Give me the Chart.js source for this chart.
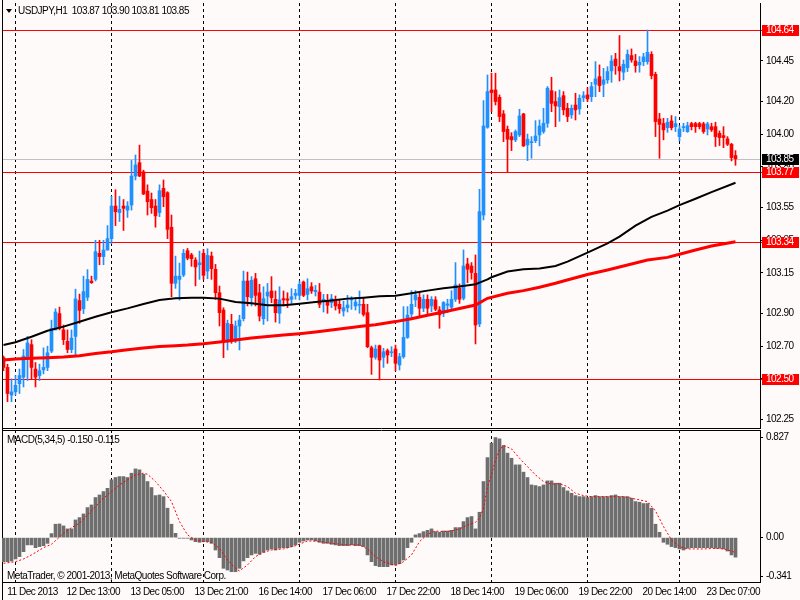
<!DOCTYPE html>
<html><head><meta charset="utf-8">
<script src="https://cdn.jsdelivr.net/npm/chart.js@4.4.0/dist/chart.umd.min.js"></script>
<style>
html,body{margin:0;padding:0;background:#fffafa;}
#wrap{position:relative;width:800px;height:600px;overflow:hidden;background:#fffafa;font-family:'Liberation Sans',Arial,sans-serif;font-size:10px;letter-spacing:-0.5px;color:#000;}
canvas{position:absolute;left:0;top:0;}
.txt{position:absolute;white-space:pre;line-height:12px;}
#tri{position:absolute;left:6px;top:9px;width:0;height:0;border-left:3px solid transparent;border-right:3px solid transparent;border-top:4px solid #000;}
</style></head><body>
<div id="wrap">
<canvas id="c1" width="800" height="600"></canvas>
<canvas id="c2" width="800" height="600"></canvas>
<div id="tri"></div>
<div class="txt" style="left:18px;top:5px">USDJPY,H1  103.87 103.90 103.81 103.85</div>
<div class="txt" style="left:7px;top:434px">MACD(5,34,5) -0.150 -0.115</div>
<div class="txt" style="left:7px;top:570px">MetaTrader, © 2001-2013, MetaQuotes Software Corp.</div>
</div>
<script>
// ---------- data ----------
const opens = [
102.63,102.57,102.40,102.42,102.47,102.51,102.63,102.71,102.56,102.52,
102.555,102.57,102.67,102.80,102.90,102.80,102.73,102.68,102.76,102.98,
102.93,103.00,103.10,103.11,103.27,103.25,103.29,103.36,103.56,103.52,
103.56,103.535,103.566,103.744,103.826,103.77,103.652,103.60,103.56,103.52,
103.668,103.642,103.43,103.086,103.11,103.137,103.286,103.26,103.229,103.20,
103.27,103.161,103.253,103.172,103.028,102.922,102.726,102.834,102.732,102.824,
102.869,103.10,102.998,103.114,103.028,102.869,103.008,103.039,102.988,102.902,
102.992,102.99,102.988,103.012,103.012,103.094,103.018,103.065,103.035,103.032,
102.977,102.977,102.967,102.977,102.957,102.916,102.936,102.984,102.947,102.951,
102.957,102.906,102.691,102.632,102.703,102.632,102.673,102.66,102.683,102.585,
102.636,102.754,102.898,102.984,103.0,102.933,102.988,102.947,102.984,102.923,
102.902,102.951,102.939,102.988,103.055,102.994,103.205,103.192,103.147,102.837,
103.505,104.043,104.272,104.272,104.227,104.125,104.031,103.986,103.966,103.996,
104.125,103.935,103.949,103.961,103.996,104.017,104.068,104.268,104.201,104.17,
104.237,104.16,104.119,104.18,104.156,104.225,104.242,104.231,104.307,104.354,
104.307,104.334,104.389,104.462,104.415,104.381,104.409,104.483,104.45,104.426,
104.446,104.446,104.491,104.368,104.094,104.066,104.041,104.082,104.047,103.986,
104.041,104.017,104.066,104.066,104.066,104.064,104.033,104.047,104.047,104.006,
103.992,103.972,103.939,103.87];
const highs = [
102.64,102.59,102.50,102.52,102.56,102.68,102.76,102.74,102.60,102.59,
102.69,102.70,102.86,102.93,102.94,102.83,102.80,102.80,103.05,103.02,
103.13,103.17,103.13,103.35,103.35,103.35,103.44,103.62,103.66,103.62,
103.60,103.587,103.84,103.873,103.934,103.78,103.69,103.64,103.60,103.69,
103.72,103.648,103.505,103.253,103.21,103.294,103.30,103.27,103.243,103.284,
103.294,103.298,103.278,103.202,103.069,102.936,102.86,102.896,102.855,102.89,
103.161,103.155,103.127,103.147,103.08,103.065,103.085,103.127,103.039,103.065,
103.039,103.028,103.053,103.049,103.10,103.10,103.114,103.09,103.073,103.085,
103.018,103.018,103.018,103.008,102.988,102.977,103.012,103.004,102.998,103.039,
102.998,102.957,102.701,102.707,102.707,102.687,102.683,102.697,102.707,102.656,
102.943,102.943,103.041,103.041,103.029,103.015,103.015,103.004,103.004,102.943,
102.974,102.988,103.041,103.213,103.082,103.291,103.24,103.213,103.26,103.663,
104.207,104.364,104.375,104.375,104.242,104.146,104.051,104.01,104.027,104.154,
104.129,104.002,103.986,104.084,104.088,104.16,104.293,104.35,104.262,104.272,
104.262,104.19,104.18,104.252,104.242,104.262,104.286,104.319,104.446,104.426,
104.405,104.415,104.483,104.497,104.606,104.456,104.518,104.524,104.491,104.477,
104.497,104.64,104.507,104.381,104.129,104.098,104.098,104.115,104.109,104.053,
104.068,104.074,104.074,104.074,104.074,104.074,104.074,104.068,104.074,104.021,
104.047,103.986,103.945,103.90];
const lows = [
102.55,102.36,102.36,102.40,102.41,102.45,102.49,102.50,102.45,102.49,
102.53,102.55,102.66,102.80,102.80,102.71,102.66,102.66,102.64,102.84,
102.90,102.98,103.085,103.10,103.20,103.20,103.29,103.33,103.44,103.465,
103.41,103.49,103.535,103.72,103.74,103.63,103.505,103.515,103.43,103.495,
103.556,103.36,103.004,103.055,102.983,103.127,103.23,103.19,103.07,103.11,
103.11,103.114,103.11,102.987,102.824,102.63,102.677,102.718,102.722,102.677,
102.855,102.947,102.947,102.947,102.855,102.834,102.855,102.967,102.848,102.84,
102.947,102.937,102.963,102.988,102.984,103.004,102.984,103.024,103.008,102.937,
102.91,102.902,102.937,102.922,102.902,102.885,102.91,102.926,102.922,102.902,
102.885,102.691,102.527,102.62,102.493,102.57,102.595,102.636,102.55,102.554,
102.626,102.748,102.871,102.943,102.886,102.912,102.892,102.912,102.918,102.81,
102.882,102.906,102.923,102.974,102.963,102.984,103.09,103.111,102.714,102.82,
103.475,104.037,104.139,104.18,104.078,103.955,103.767,103.90,103.955,103.986,
103.925,103.839,103.853,103.949,103.929,104.006,104.043,104.139,104.047,104.08,
104.119,104.078,104.098,104.088,104.123,104.201,104.201,104.201,104.231,104.262,
104.231,104.313,104.319,104.368,104.327,104.334,104.385,104.442,104.381,104.381,
104.421,104.43,104.34,103.986,103.853,103.966,104.012,104.027,104.017,103.959,
104.017,104.012,104.027,104.012,104.033,104.006,103.996,104.017,103.925,103.931,
103.918,103.931,103.837,103.81];
const closes = [
102.57,102.41,102.42,102.46,102.52,102.64,102.72,102.57,102.51,102.55,
102.57,102.66,102.81,102.91,102.81,102.74,102.68,102.75,102.99,102.92,
103.035,103.11,103.09,103.28,103.25,103.29,103.36,103.56,103.525,103.54,
103.546,103.56,103.744,103.812,103.744,103.634,103.587,103.55,103.50,103.654,
103.617,103.417,103.086,103.13,103.13,103.27,103.24,103.237,103.186,103.212,
103.135,103.257,103.176,103.028,102.906,102.726,102.84,102.738,102.824,102.861,
103.10,103.004,103.104,103.012,102.885,102.992,103.032,102.998,102.906,102.984,
102.984,102.982,103.004,103.024,103.079,103.012,103.053,103.039,103.043,102.957,
102.988,102.951,102.992,102.947,102.93,102.936,102.953,102.992,102.971,102.957,
102.895,102.697,102.632,102.683,102.615,102.666,102.646,102.666,102.595,102.636,
102.754,102.891,102.957,103.015,102.933,102.988,102.933,102.988,102.927,102.892,
102.968,102.959,102.988,103.076,102.988,103.192,103.172,103.152,102.83,103.526,
104.051,104.262,104.256,104.201,104.109,104.017,103.97,103.966,104.017,104.113,
103.929,103.97,103.955,103.99,104.051,104.068,104.283,104.19,104.174,104.225,
104.15,104.109,104.16,104.15,104.221,104.237,104.217,104.293,104.34,104.299,
104.334,104.385,104.45,104.421,104.389,104.43,104.491,104.456,104.421,104.442,
104.475,104.503,104.36,104.078,104.061,104.027,104.074,104.041,104.066,104.033,
104.047,104.053,104.047,104.047,104.047,104.017,104.064,104.027,103.986,103.98,
103.98,103.939,103.857,103.85];

// moving averages (bar index, price)
const blackMaIdx = [0,3,7,11,15,19,23,27,31,35,39,43,47,50,54,58,62,66,70,74,78,82,86,90,94,98,102,106,110,114,118,119,121,122,126,130,134,138,141,146,151,154,158,162,166,169,173,177,183];
const blackMaVal = [102.707,102.724,102.758,102.795,102.82,102.85,102.881,102.908,102.932,102.959,102.983,102.994,102.998,102.998,102.992,102.971,102.963,102.951,102.951,102.961,102.971,102.981,102.992,102.998,103.006,103.01,103.025,103.041,103.055,103.066,103.08,103.09,103.11,103.123,103.158,103.172,103.177,103.192,103.219,103.274,103.331,103.372,103.44,103.494,103.532,103.566,103.605,103.645,103.703];
const redMaIdx = [0,3,7,11,15,19,23,27,31,35,39,43,46,50,54,58,62,66,70,74,78,82,86,90,93,98,102,106,110,114,118,121,126,130,134,138,140,146,151,156,161,166,169,173,177,183];
const redMaVal = [102.615,102.622,102.626,102.63,102.634,102.642,102.656,102.666,102.679,102.689,102.699,102.703,102.707,102.715,102.726,102.738,102.75,102.76,102.769,102.777,102.787,102.799,102.812,102.824,102.832,102.851,102.869,102.89,102.91,102.931,102.953,102.994,103.025,103.041,103.062,103.086,103.1,103.14,103.168,103.198,103.229,103.245,103.264,103.29,103.315,103.341];

// MACD(5,34,5)
const macdHist = [
-0.185,-0.185,-0.18,-0.164,-0.146,-0.108,-0.056,-0.056,-0.077,-0.069,
-0.062,-0.044,0.031,0.103,0.105,0.09,0.067,0.067,0.136,0.154,
0.182,0.231,0.251,0.308,0.328,0.354,0.379,0.444,0.462,0.469,
0.469,0.462,0.495,0.528,0.521,0.487,0.431,0.385,0.323,0.328,
0.315,0.226,0.103,0.033,-0.005,-0.005,-0.005,-0.018,-0.031,-0.036,
-0.031,-0.031,-0.044,-0.095,-0.154,-0.236,-0.249,-0.262,-0.262,-0.236,
-0.179,-0.154,-0.133,-0.121,-0.128,-0.113,-0.095,-0.087,-0.095,-0.082,
-0.077,-0.077,-0.069,-0.056,-0.036,-0.026,-0.018,-0.018,-0.026,-0.036,
-0.044,-0.044,-0.051,-0.056,-0.062,-0.062,-0.062,-0.056,-0.062,-0.062,
-0.069,-0.133,-0.185,-0.215,-0.223,-0.223,-0.223,-0.21,-0.21,-0.2,
-0.172,-0.077,-0.036,0.021,0.031,0.046,0.056,0.067,0.046,0.041,
0.051,0.051,0.056,0.077,0.077,0.123,0.154,0.162,0.067,0.195,
0.431,0.615,0.726,0.769,0.759,0.708,0.649,0.61,0.559,0.559,
0.503,0.462,0.405,0.40,0.392,0.405,0.436,0.436,0.418,0.418,
0.385,0.359,0.341,0.323,0.315,0.315,0.308,0.315,0.323,0.315,
0.315,0.315,0.323,0.328,0.315,0.315,0.315,0.303,0.277,0.272,
0.262,0.262,0.226,0.103,0.041,-0.036,-0.051,-0.069,-0.077,-0.087,
-0.095,-0.082,-0.077,-0.077,-0.077,-0.077,-0.077,-0.077,-0.082,-0.082,
-0.087,-0.103,-0.133,-0.15];
const signalIdx = [0,3,5,7,10,12,15,17,19,21,23,25,27,29,31,33,35,36,38,40,42,44,46,48,50,52,54,56,58,59,61,63,65,67,70,73,76,78,82,86,89,91,93,95,98,100,102,104,106,108,110,112,114,116,118,119,120,121,122,123,124,125,127,129,131,133,135,137,139,141,143,145,147,151,155,159,161,163,165,167,169,171,175,178,180,182,183];
const signalVal = [-0.197,-0.185,-0.164,-0.133,-0.077,-0.051,0.033,0.077,0.110,0.174,0.238,0.303,0.354,0.405,0.444,0.482,0.495,0.487,0.431,0.359,0.277,0.123,0.021,-0.018,-0.031,-0.036,-0.082,-0.172,-0.236,-0.256,-0.21,-0.146,-0.113,-0.095,-0.087,-0.062,-0.026,-0.026,-0.044,-0.056,-0.056,-0.087,-0.146,-0.185,-0.215,-0.185,-0.133,-0.031,0.026,0.051,0.046,0.051,0.067,0.097,0.118,0.149,0.226,0.392,0.482,0.597,0.674,0.708,0.682,0.61,0.546,0.482,0.431,0.41,0.415,0.392,0.341,0.323,0.315,0.315,0.315,0.29,0.277,0.205,0.085,-0.018,-0.069,-0.087,-0.087,-0.082,-0.087,-0.103,-0.115];

// axes / labels
const xLabelIdx = [0,16,32,48,64,80,96,112,128,144,160,176];
const xLabels = ['11 Dec 2013','12 Dec 13:00','13 Dec 05:00','13 Dec 21:00','16 Dec 14:00','17 Dec 06:00','17 Dec 22:00','18 Dec 14:00','19 Dec 06:00','19 Dec 22:00','20 Dec 14:00','23 Dec 07:00'];
const dayStartIdx = [3,27,50,74,98,122,146,169];
const priceTicks = [104.45,104.20,104.00,103.80,103.55,103.35,103.15,102.90,102.70,102.50,102.25];
const levelValues = [104.64,103.77,103.34,102.50];
const bidPrice = 103.85;
const macdMax = 0.827, macdMin = -0.341;
const macdTickLabels = ['0.827','0.00','-0.341'];

// ---------- drawing ----------
const FONT = "'Liberation Sans',Arial,sans-serif";
Chart.defaults.font.family = FONT;
Chart.defaults.font.size = 10;
Chart.defaults.color = '#000';

const X_MIN = -0.375, X_MAX = 189.125;
const Y_MAX = 104.64 + 27/163, Y_MIN = Y_MAX - 425/163;
const candleColor = opens.map((o,i)=> closes[i] >= o ? '#1e90ff' : '#ff0000');

function hline(ctx,x1,x2,y){ctx.beginPath();ctx.moveTo(x1,y);ctx.lineTo(x2,y);ctx.stroke();}
function vline(ctx,x,y1,y2){ctx.beginPath();ctx.moveTo(x,y1);ctx.lineTo(x,y2);ctx.stroke();}
const noPad = s => { s.paddingTop = 0; s.paddingBottom = 0; s.paddingLeft = 0; s.paddingRight = 0; };

const tightText = { id:'tightText', beforeDraw(chart){ if ('letterSpacing' in chart.ctx) chart.ctx.letterSpacing = '-0.5px'; } };

const levelsPlugin = {
  id:'levels',
  beforeDatasetsDraw(chart){
    const {ctx, chartArea:a, scales:{y}} = chart;
    ctx.save(); ctx.lineWidth = 1;
    ctx.strokeStyle = '#c0c0c0';
    hline(ctx, a.left, a.right, Math.round(y.getPixelForValue(bidPrice)) + 0.5);
    ctx.strokeStyle = '#ff0000';
    levelValues.forEach(v => hline(ctx, a.left, a.right + 2, Math.round(y.getPixelForValue(v)) + 0.5));
    ctx.restore();
  },
  afterDraw(chart){
    const {ctx, chartArea:a, scales:{y}} = chart;
    ctx.save();
    ctx.font = '10px ' + FONT; ctx.textBaseline = 'middle'; ctx.textAlign = 'left';
    const box = (v, bg) => {
      const py = Math.round(y.getPixelForValue(v));
      ctx.fillStyle = bg; ctx.fillRect(a.right + 2, py - 5, 37, 11);
      ctx.fillStyle = '#fff'; ctx.fillText(v.toFixed(2), a.right + 6, py + 0.5);
    };
    levelValues.forEach(v => box(v, '#ff0000'));
    box(bidPrice, '#000');
    ctx.strokeStyle = '#000'; ctx.lineWidth = 1;
    vline(ctx, a.left + 0.5, 0, 600);
    vline(ctx, a.right + 0.5, a.top, a.bottom + 1);
    hline(ctx, a.left, a.right + 1, a.bottom + 0.5);
    ctx.restore();
  }
};

const frame2 = {
  id:'frame2',
  afterDraw(chart){
    const {ctx, chartArea:a} = chart;
    ctx.save(); ctx.strokeStyle = '#000'; ctx.lineWidth = 1;
    hline(ctx, a.left, a.right + 1, a.top + 0.5);
    vline(ctx, a.right + 0.5, a.top, a.bottom + 1);
    hline(ctx, a.left, a.right + 1, a.bottom + 0.5);
    ctx.restore();
  }
};

new Chart(document.getElementById('c1'), {
  type:'bar',
  data:{datasets:[
    {type:'line', label:'MA black', data: blackMaIdx.map((x,k)=>({x, y:blackMaVal[k]})), borderColor:'#000', borderWidth:2, pointRadius:0, tension:0, order:0},
    {type:'line', label:'MA red', data: redMaIdx.map((x,k)=>({x, y:redMaVal[k]})), borderColor:'#ff0000', borderWidth:3, pointRadius:0, tension:0, order:0},
    {label:'body', data: opens.map((o,i)=>({x:i, y:[o, closes[i]]})), backgroundColor:candleColor, barThickness:3, grouped:false, minBarLength:1, order:1},
    {label:'wick', data: lows.map((l,i)=>({x:i, y:[l, highs[i]]})), backgroundColor:candleColor, barThickness:1, grouped:false, order:2}
  ]},
  options:{
    responsive:false, animation:false, devicePixelRatio:1,
    layout:{padding:{left:2, top:3, right:0, bottom:172}},
    plugins:{legend:{display:false}, tooltip:{enabled:false}},
    scales:{
      x:{type:'linear', min:X_MIN, max:X_MAX, offset:false, position:'bottom',
         afterBuildTicks: s => { s.ticks = dayStartIdx.map(v=>({value:v})); },
         afterFit: s => { s.height = 0; noPad(s); },
         ticks:{display:false},
         grid:{display:true, color:'#000', lineWidth:1, drawTicks:false, offset:false},
         border:{display:false, dash:[3,3]}},
      y:{type:'linear', position:'right', min:Y_MIN, max:Y_MAX,
         afterBuildTicks: s => { s.ticks = priceTicks.map(v=>({value:v})); },
         afterFit: s => { s.width = 40; noPad(s); },
         ticks:{padding:3, autoSkip:false, callback: v => Number(v).toFixed(2)},
         grid:{drawOnChartArea:false, drawTicks:true, tickLength:3, tickColor:'#000'},
         border:{display:false}}
    }
  },
  plugins:[tightText, levelsPlugin]
});

new Chart(document.getElementById('c2'), {
  type:'bar',
  data:{datasets:[
    {type:'line', label:'Signal', xAxisID:'x', data: signalIdx.map((x,k)=>({x, y:signalVal[k]})), borderColor:'#ff0000', borderWidth:1, borderDash:[2,2], pointRadius:0, tension:0, order:0},
    {label:'MACD', xAxisID:'x', data: macdHist.map((v,i)=>({x:i, y:v})), backgroundColor:'#6e6e6e', barThickness:3, grouped:false, order:1}
  ]},
  options:{
    responsive:false, animation:false, devicePixelRatio:1,
    layout:{padding:{left:2, top:430, right:0, bottom:0}},
    plugins:{legend:{display:false}, tooltip:{enabled:false}},
    scales:{
      x:{type:'linear', min:X_MIN, max:X_MAX, offset:false, position:'bottom',
         afterBuildTicks: s => { s.ticks = xLabelIdx.map(i=>({value: i===0 ? 0.95 : i - 0.25})); },
         afterFit: s => { s.height = 18; noPad(s); },
         ticks:{display:true, align:'start', padding:4, maxRotation:0, minRotation:0, autoSkip:false, callback:(v,k)=>xLabels[k]},
         grid:{drawOnChartArea:false, drawTicks:false, offset:false},
         border:{display:false}},
      xg:{type:'linear', min:X_MIN, max:X_MAX, offset:false, position:'bottom',
         afterBuildTicks: s => { s.ticks = dayStartIdx.map(v=>({value:v})); },
         afterFit: s => { s.height = 0; noPad(s); },
         ticks:{display:false},
         grid:{display:true, color:'#000', lineWidth:1, drawTicks:false, offset:false},
         border:{display:false, dash:[3,3]}},
      y:{type:'linear', position:'right', min:macdMin, max:macdMax,
         afterBuildTicks: s => { const r = macdMax - macdMin; s.ticks = [macdMax - r*7.7/152, 0, macdMin + r*6/152].map(v=>({value:v})); },
         afterFit: s => { s.width = 40; noPad(s); },
         ticks:{padding:3, autoSkip:false, callback:(v,k)=>macdTickLabels[k]},
         grid:{drawOnChartArea:false, drawTicks:true, tickLength:3, tickColor:'#000'},
         border:{display:false}}
    }
  },
  plugins:[tightText, frame2]
});
</script>
</body></html>
